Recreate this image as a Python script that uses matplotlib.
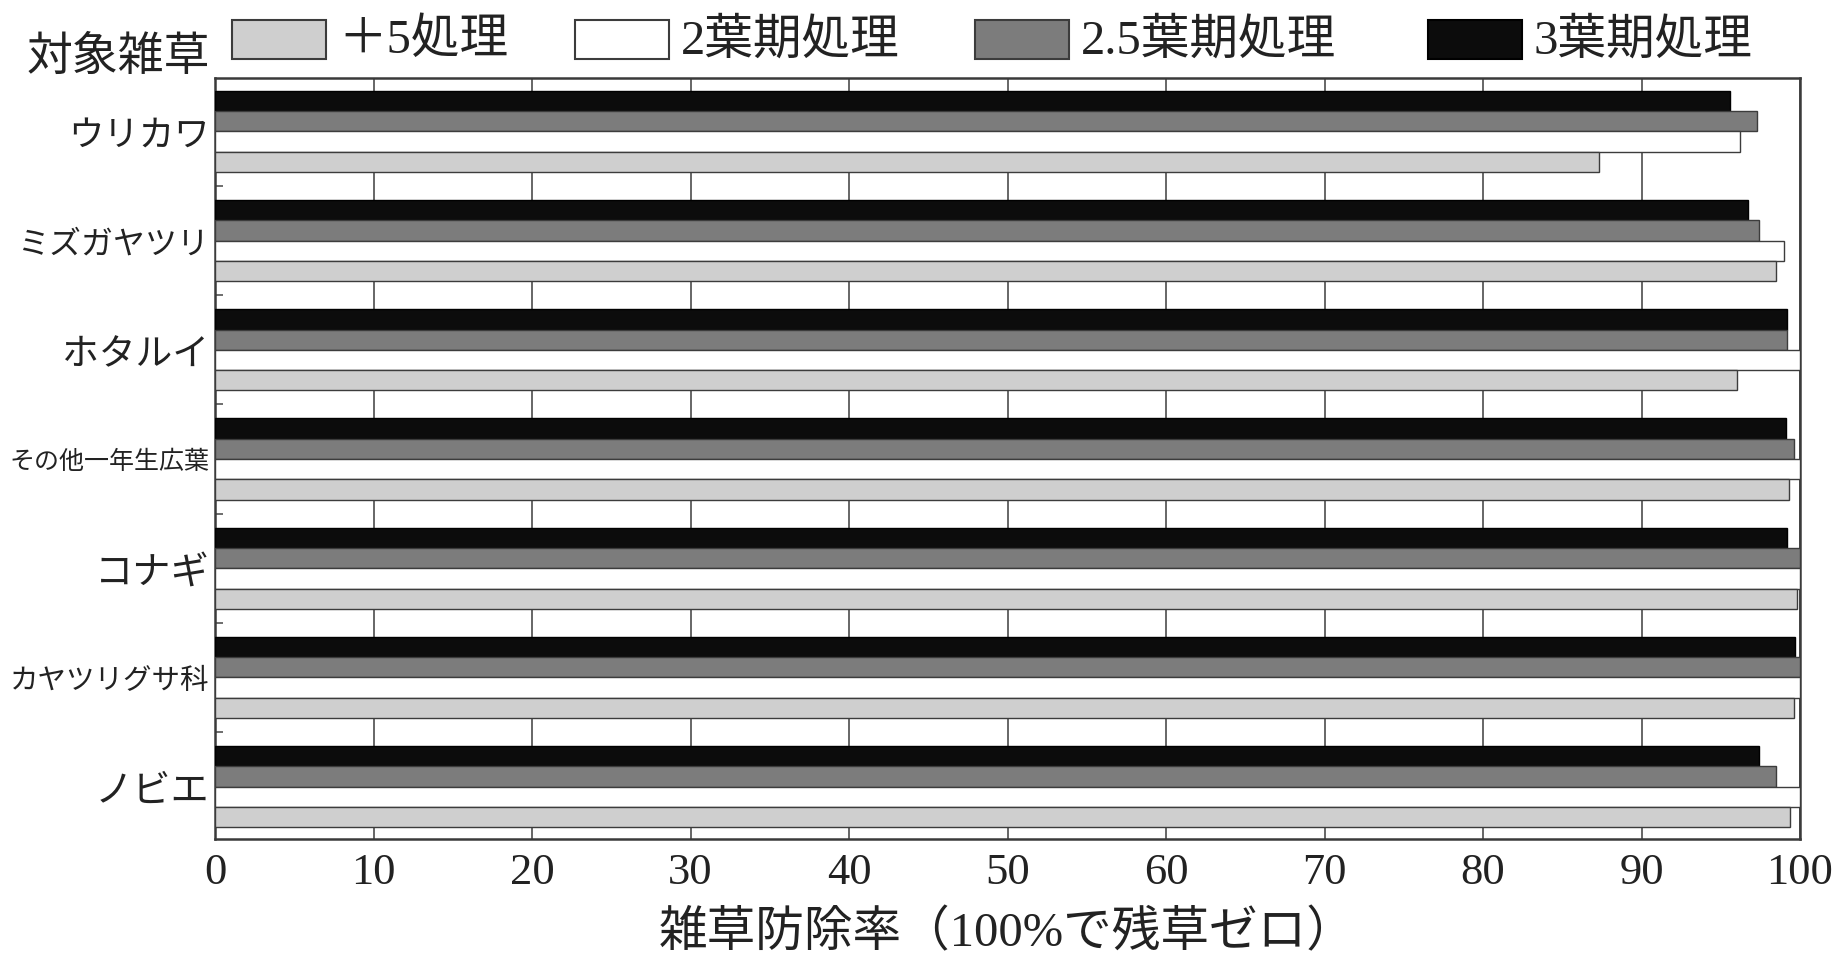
import matplotlib
matplotlib.use("Agg")
import matplotlib.pyplot as plt
from matplotlib.patches import Rectangle
import numpy as np

# Weed species (top to bottom)
weeds = ["ウリカワ", "ミズガヤツリ", "ホタルイ", "その他一年生広葉", "コナギ", "カヤツリグサ科", "ノビエ"]

# Treatment names
treatments = ["＋5処理", "2葉期処理", "2.5葉期処理", "3葉期処理"]

# Weed control rate (%) per treatment, in weed order
plus5 = [87.3, 98.5, 96.0, 99.3, 99.8, 99.6, 99.4]
leaf2 = [96.2, 99.0, 100.0, 100.0, 100.0, 100.0, 100.0]
leaf25 = [97.3, 97.4, 99.2, 99.6, 100.0, 100.0, 98.5]
leaf3 = [95.6, 96.7, 99.2, 99.1, 99.2, 99.7, 97.4]

xticks = [0, 10, 20, 30, 40, 50, 60, 70, 80, 90, 100]
xlabel = "雑草防除率（100%で残草ゼロ）"
ylabel_title = "対象雑草"

# Per-label font sizes (long names are set smaller)
label_sizes = [25.5, 23, 26.5, 18, 27.5, 20.5, 27.5]

SERIF_JP = ["Liberation Serif", "Noto Sans CJK JP"]
JP = ["Noto Sans CJK JP", "DejaVu Sans"]

colors = {"＋5処理": "#cfcfcf", "2葉期処理": "#ffffff",
          "2.5葉期処理": "#7c7c7c", "3葉期処理": "#0c0c0c"}
edge = "#3c3c3c"

fig = plt.figure(figsize=(18.47, 9.64), dpi=100, facecolor="white")
ax = fig.add_axes([215 / 1847, 1 - 839 / 964, (1800 - 215) / 1847, (839 - 78) / 964])

y = np.arange(len(weeds))
h = 0.186
series = [(leaf3, "3葉期処理", -1.5), (leaf25, "2.5葉期処理", -0.5),
          (leaf2, "2葉期処理", 0.5), (plus5, "＋5処理", 1.5)]
for vals, name, off in series:
    ax.barh(y + off * h, vals, height=h, color=colors[name],
            edgecolor=edge if name != "3葉期処理" else "#000000",
            linewidth=1.0, zorder=3)

ax.set_xlim(0, 100)
ax.set_ylim(6.48, -0.49)
ax.set_xticks(xticks)
ax.set_xticklabels([str(t) for t in xticks], family="Liberation Serif", fontsize=32)
ax.tick_params(axis="x", length=0, pad=10, colors="#222222")
ax.xaxis.grid(True, color="#5a5a5a", linewidth=1.3, zorder=0)
ax.set_axisbelow(True)

ax.set_yticks(y)
ax.set_yticklabels(weeds, family=JP, color="#222222")
for lbl, s in zip(ax.get_yticklabels(), label_sizes):
    lbl.set_fontsize(s)
ax.tick_params(axis="y", which="major", length=0, pad=4)
ax.set_yticks(np.arange(len(weeds) - 1) + 0.5, minor=True)
ax.tick_params(axis="y", which="minor", direction="in", length=6,
               width=1.2, color="#555555")

for sp in ax.spines.values():
    sp.set_color("#3a3a3a")
    sp.set_linewidth(1.8)

ax.set_xlabel(xlabel, family=SERIF_JP, fontsize=35, color="#222222", labelpad=12)

fig.text(210 / 1847, 1 - 57 / 964, ylabel_title, family=JP, fontsize=33,
         ha="right", va="center", color="#222222")

# Legend row above the plot
patch_x = [232, 575, 975, 1428]
for name, px in zip(treatments, patch_x):
    fig.patches.append(Rectangle((px / 1847, 1 - 59 / 964), 94 / 1847, 39 / 964,
                                 transform=fig.transFigure, facecolor=colors[name],
                                 edgecolor=edge if name != "3葉期処理" else "#000000",
                                 linewidth=1.5))
    fig.text((px + 106) / 1847, 1 - 41 / 964, name, family=SERIF_JP, fontsize=35,
             ha="left", va="center", color="#222222")

fig.savefig("out.png", dpi=100, facecolor="white")
